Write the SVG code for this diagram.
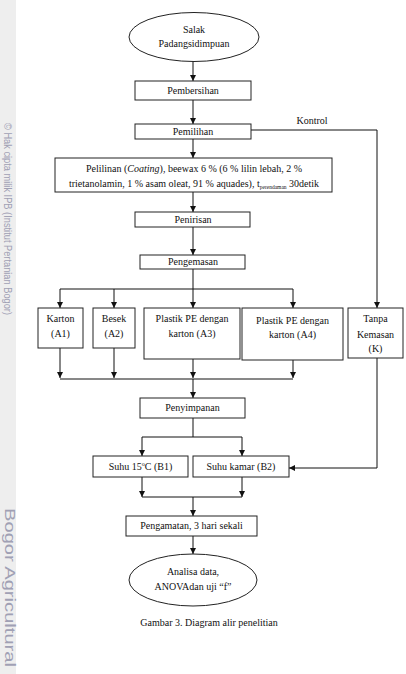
<svg xmlns="http://www.w3.org/2000/svg" width="406" height="674" viewBox="0 0 406 674">
<style>
.n{fill:#fff;stroke:#222;stroke-width:1}
.t{font-family:"Liberation Serif","Times New Roman",serif;font-size:10px;fill:#111;text-anchor:middle}
.c path{fill:none;stroke:#111;stroke-width:1}
.wm{font-family:"Liberation Sans",Arial,sans-serif;fill:#a0a0b4}
</style>
<defs>
<marker id="ah" markerUnits="userSpaceOnUse" markerWidth="6" markerHeight="6" refX="6" refY="3" orient="auto">
<path d="M0,0 L6,3 L0,6 z" fill="#111"/>
</marker>
</defs>
<rect width="406" height="674" fill="#fff"/>
<g id="watermark">
<rect x="0" y="0" width="16" height="674" fill="#eeeeee"/>
<text class="wm" font-size="10" textLength="192" lengthAdjust="spacingAndGlyphs" transform="translate(3.5,123) rotate(90)">© Hak cipta milik IPB (Institut Pertanian Bogor)</text>
<text class="wm" font-size="15" textLength="159" lengthAdjust="spacingAndGlyphs" transform="translate(5,508) rotate(90)">Bogor Agricultural</text>
</g>
<g class="c" id="connectors">
<path d="M193,61 V81" marker-end="url(#ah)"/>
<path d="M193,100 V124" marker-end="url(#ah)"/>
<path d="M193,139 V158" marker-end="url(#ah)"/>
<path d="M193,192 V212" marker-end="url(#ah)"/>
<path d="M193,227 V255" marker-end="url(#ah)"/>
<path d="M193,269 V289 M60,289 H293"/>
<path d="M60,289 V308" marker-end="url(#ah)"/>
<path d="M114,289 V308" marker-end="url(#ah)"/>
<path d="M193,289 V308" marker-end="url(#ah)"/>
<path d="M293,289 V308" marker-end="url(#ah)"/>
<path d="M251,130 H377 V308" marker-end="url(#ah)"/>
<path d="M60,348 V378" marker-end="url(#ah)"/>
<path d="M114,348 V378" marker-end="url(#ah)"/>
<path d="M193,359 V378" marker-end="url(#ah)"/>
<path d="M293,360 V378" marker-end="url(#ah)"/>
<path d="M60,379 H293"/>
<path d="M193,379 V398" marker-end="url(#ah)"/>
<path d="M377,358 V468 H289" marker-end="url(#ah)"/>
<path d="M193,418 V437 M142,437 H242"/>
<path d="M142,437 V456" marker-end="url(#ah)"/>
<path d="M242,437 V456" marker-end="url(#ah)"/>
<path d="M142,477 V497" marker-end="url(#ah)"/>
<path d="M242,477 V497" marker-end="url(#ah)"/>
<path d="M142,497 H242"/>
<path d="M193,497 V516" marker-end="url(#ah)"/>
<path d="M193,536 V554" marker-end="url(#ah)"/>
</g>
<g id="salak">
<ellipse class="n" cx="194" cy="37" rx="65" ry="24.5"/>
<text class="t" x="194" y="33">Salak</text>
<text class="t" x="194" y="47">Padangsidimpuan</text>
</g>
<g id="pembersihan">
<rect class="n" x="135" y="81" width="116" height="19"/>
<text class="t" x="193" y="94">Pembersihan</text>
</g>
<g id="kontrol-label">
<text class="t" x="312" y="124">Kontrol</text>
</g>
<g id="pemilihan">
<rect class="n" x="135" y="124" width="116" height="15"/>
<text class="t" x="193" y="135">Pemilihan</text>
</g>
<g id="pelilinan">
<rect class="n" x="55" y="158" width="277" height="34"/>
<text class="t" x="194" y="172" textLength="216" lengthAdjust="spacing">Pelilinan (<tspan font-style="italic">Coating</tspan>), beewax 6 % (6 % lilin lebah, 2 %</text>
<text class="t" x="194" y="187">trietanolamin, 1 % asam oleat, 91 % aquades), t<tspan font-size="5.5" dy="1.5">perendaman</tspan><tspan dy="-1.5"> 30detik</tspan></text>
</g>
<g id="penirisan">
<rect class="n" x="135" y="212" width="115" height="15"/>
<text class="t" x="193" y="223">Penirisan</text>
</g>
<g id="pengemasan">
<rect class="n" x="140" y="255" width="105" height="14"/>
<text class="t" x="193" y="265">Pengemasan</text>
</g>
<g id="karton">
<rect class="n" x="38" y="308" width="45" height="40"/>
<text class="t" x="60.5" y="322">Karton</text>
<text class="t" x="60.5" y="337">(A1)</text>
</g>
<g id="besek">
<rect class="n" x="93" y="308" width="42" height="40"/>
<text class="t" x="114" y="322">Besek</text>
<text class="t" x="114" y="337">(A2)</text>
</g>
<g id="plastik-a3">
<rect class="n" x="144" y="308" width="96" height="51"/>
<text class="t" x="192" y="322">Plastik PE dengan</text>
<text class="t" x="192" y="337">karton (A3)</text>
</g>
<g id="plastik-a4">
<rect class="n" x="242" y="308" width="101" height="52"/>
<text class="t" x="292.5" y="324">Plastik PE dengan</text>
<text class="t" x="292.5" y="338">karton (A4)</text>
</g>
<g id="tanpa">
<rect class="n" x="348" y="308" width="55" height="50"/>
<text class="t" x="375.5" y="322">Tanpa</text>
<text class="t" x="375.5" y="338">Kemasan</text>
<text class="t" x="375.5" y="352">(K)</text>
</g>
<g id="penyimpanan">
<rect class="n" x="140" y="398" width="105" height="20"/>
<text class="t" x="192.5" y="411">Penyimpanan</text>
</g>
<g id="suhu15">
<rect class="n" x="93" y="456" width="95" height="21"/>
<text class="t" x="140.5" y="470">Suhu 15<tspan font-size="6" dy="-4">o</tspan><tspan dy="4">C (B1)</tspan></text>
</g>
<g id="suhukamar">
<rect class="n" x="193" y="456" width="96" height="21"/>
<text class="t" x="241" y="470">Suhu kamar (B2)</text>
</g>
<g id="pengamatan">
<rect class="n" x="126" y="516" width="131" height="20"/>
<text class="t" x="191.5" y="529">Pengamatan, 3 hari sekali</text>
</g>
<g id="analisa">
<ellipse class="n" cx="193" cy="580" rx="64" ry="26"/>
<text class="t" x="193" y="575">Analisa data,</text>
<text class="t" x="193" y="590">ANOVAdan uji “f”</text>
</g>
<g id="caption">
<text class="t" x="209" y="626">Gambar 3. Diagram alir penelitian</text>
</g>
</svg>
